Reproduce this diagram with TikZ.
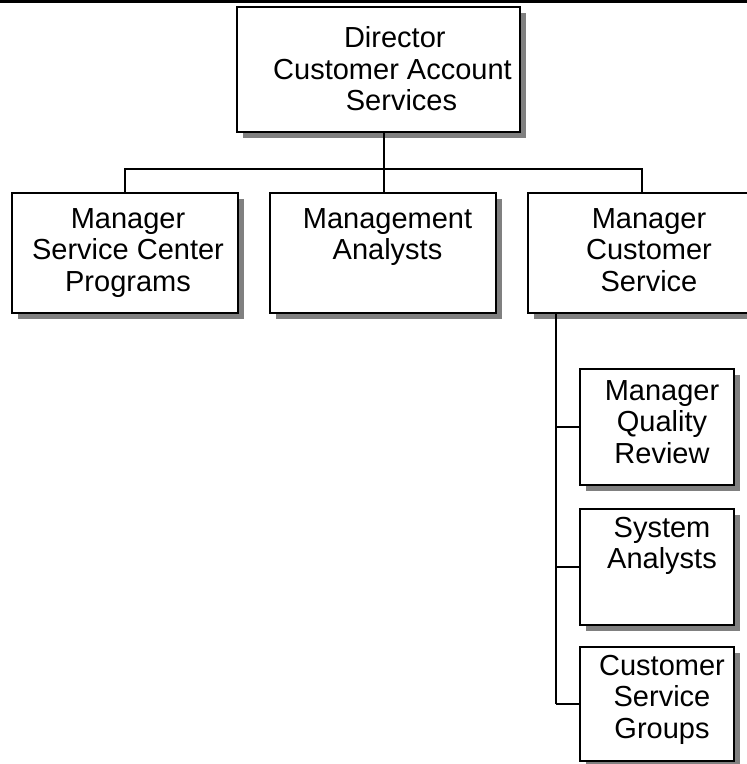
\documentclass[tikz,border=0pt]{standalone}
\usepackage{fontspec}
\setmainfont{Liberation Sans}
\usetikzlibrary{shadows}
\definecolor{shadowgray}{RGB}{128,128,128}
\tikzset{
  orgbox/.style={draw, rectangle, line width=2.5pt, fill=white, inner sep=0pt, outer sep=0pt,
    general shadow={shadow xshift=6pt, shadow yshift=-6pt, fill=shadowgray}},
  orgtext/.style={anchor=north, align=center, inner sep=0pt, font=\fontsize{29}{31.5}\selectfont},
  link/.style={line width=2pt}
}
\begin{document}
\begin{tikzpicture}[x=1pt, y=-1pt]
\path[use as bounding box] (0,0) rectangle (747,764);
\clip (0,0) rectangle (747,764);
\draw[line width=2.5pt] (0,1.5) -- (747,1.5);
% boxes
\node[orgbox, minimum width=283pt, minimum height=125pt] (dir) at (378.5,69.5) {};
\node[orgbox, minimum width=226pt, minimum height=120pt] (m1) at (125,253) {};
\node[orgbox, minimum width=226pt, minimum height=120pt] (m2) at (383,253) {};
\node[orgbox, minimum width=228pt, minimum height=120pt] (m3) at (642,253) {};
\node[orgbox, minimum width=154pt, minimum height=116pt] (s1) at (657,427) {};
\node[orgbox, minimum width=154pt, minimum height=116pt] (s2) at (657,567) {};
\node[orgbox, minimum width=154pt, minimum height=114pt] (s3) at (657,704) {};
% texts
\node[orgtext] (dirt) at (392.5,25.5) {\strut\hspace*{4.6pt}Director\\\strut Customer Account\\\strut\hspace*{18pt}Services};
\node[orgtext] (m1t) at (128,206) {\strut Manager\\\strut Service Center\\\strut Programs};
\node[orgtext] (m2t) at (387.5,206) {\strut Management\\\strut Analysts};
\node[orgtext] (m3t) at (649,206) {\strut Manager\\\strut Customer\\\strut Service};
\node[orgtext] (s1t) at (662,378) {\strut Manager\\\strut Quality\\\strut Review};
\node[orgtext] (s2t) at (662,515) {\strut System\\\strut Analysts};
\node[orgtext] (s3t) at (662,653) {\strut Customer\\\strut Service\\\strut Groups};
% connectors
\coordinate (j) at (384,169);
\coordinate (k) at (556,704);
\draw[link] (dir.south -| j) -- (m2.north -| j);
\draw[link] (m1.north) -- (m1.north |- j) -- (m3.north |- j) -- (m3.north);
\draw[link] (m3.south -| k) -- (k);
\draw[link] (s1.west) -- (s1.west -| k);
\draw[link] (s2.west) -- (s2.west -| k);
\draw[link] (s3.west) -- (k);
\end{tikzpicture}
\end{document}
